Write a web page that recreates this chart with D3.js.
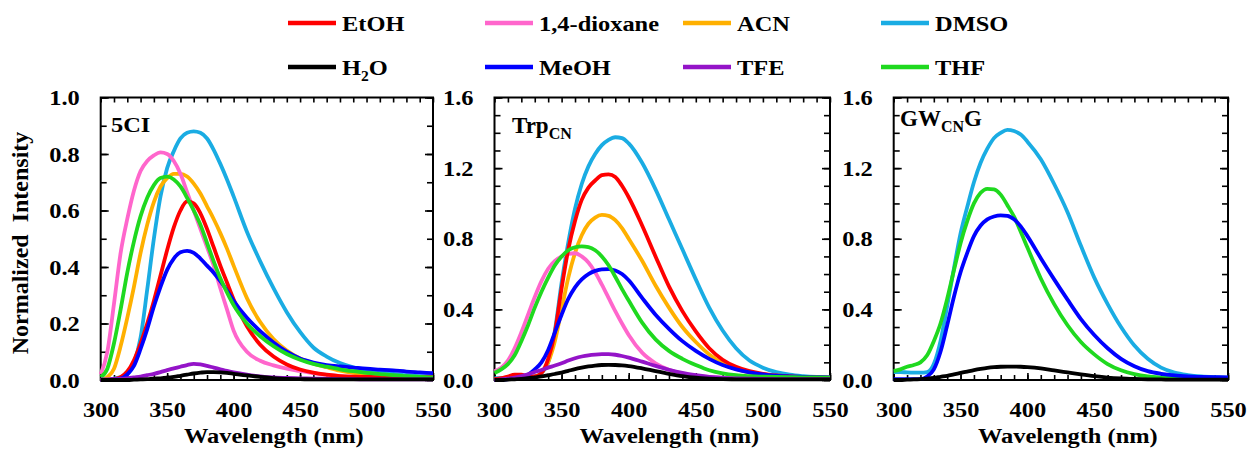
<!DOCTYPE html>
<html>
<head>
<meta charset="utf-8">
<script src="https://cdnjs.cloudflare.com/ajax/libs/d3/7.8.5/d3.min.js"></script>
<style>
	body { margin:0; background:#fff; }
	svg text { font-family:"Liberation Serif","Times New Roman",serif; font-weight:bold; fill:#000; }
</style>
</head>
<body>
<svg id="chart" width="1250" height="455"></svg>
<script>
// wavelength grid (nm), 5 nm steps up to 400, then 10 nm
var wavelength = [300,305,310,315,320,325,330,335,340,345,350,355,360,365,370,375,380,385,390,395,400,
	410,420,430,440,450,460,470,480,490,500,510,520,530,540,550];

var xTicks = [300,350,400,450,500,550];
var yTicks5CI = [0,0.2,0.4,0.6,0.8,1.0];
var yTicksCN = [0,0.4,0.8,1.2,1.6];

var solvents = ["EtOH","1,4-dioxane","ACN","DMSO","H2O","MeOH","TFE","THF"];

// 5CI
var ci_EtOH = [0,0,0.003,0.01,0.03,0.07,0.13,0.20,0.28,0.37,0.46,0.54,0.60,0.632,0.625,0.59,0.535,0.47,0.405,0.345,0.285,0.19,0.125,0.083,0.055,0.037,0.026,0.019,0.014,0.012,0.011,0.01,0.01,0.01,0.01,0.01];
var ci_dioxane = [0.02,0.10,0.27,0.45,0.57,0.67,0.74,0.775,0.795,0.806,0.80,0.775,0.73,0.665,0.60,0.535,0.47,0.405,0.325,0.25,0.175,0.10,0.068,0.052,0.04,0.032,0.024,0.018,0.014,0.011,0.009,0.008,0.007,0.006,0.006,0.005];
var ci_ACN = [0,0.01,0.04,0.12,0.22,0.33,0.45,0.55,0.63,0.685,0.715,0.73,0.73,0.72,0.695,0.66,0.615,0.57,0.52,0.465,0.405,0.29,0.205,0.145,0.104,0.076,0.058,0.045,0.033,0.025,0.021,0.018,0.014,0.011,0.008,0.006];
var ci_DMSO = [0,0,0.005,0.01,0.02,0.06,0.15,0.32,0.50,0.65,0.75,0.81,0.855,0.875,0.88,0.875,0.855,0.815,0.765,0.71,0.65,0.525,0.42,0.325,0.24,0.17,0.115,0.083,0.06,0.045,0.035,0.028,0.022,0.017,0.014,0.011];
var ci_H2O = [0,0,0,0,0,0.001,0.002,0.003,0.005,0.006,0.008,0.011,0.015,0.019,0.023,0.026,0.028,0.028,0.027,0.025,0.022,0.016,0.011,0.007,0.004,0.003,0.002,0.002,0.002,0.002,0.002,0.002,0.002,0.002,0.002,0.002];
var ci_MeOH = [0,0,0.002,0.005,0.02,0.05,0.11,0.18,0.26,0.33,0.39,0.43,0.452,0.457,0.45,0.43,0.405,0.38,0.35,0.317,0.28,0.22,0.173,0.133,0.10,0.076,0.062,0.053,0.048,0.044,0.04,0.037,0.034,0.03,0.027,0.024];
var ci_TFE = [0.002,0.002,0.003,0.004,0.006,0.009,0.012,0.017,0.022,0.028,0.035,0.041,0.047,0.053,0.057,0.055,0.05,0.044,0.038,0.032,0.027,0.019,0.013,0.009,0.007,0.006,0.005,0.004,0.003,0.003,0.002,0.002,0.002,0.002,0.002,0.002];
var ci_THF = [0.01,0.04,0.13,0.25,0.38,0.49,0.58,0.645,0.69,0.715,0.72,0.71,0.685,0.645,0.60,0.55,0.485,0.42,0.36,0.31,0.265,0.20,0.155,0.12,0.092,0.072,0.057,0.047,0.038,0.031,0.025,0.021,0.017,0.014,0.011,0.009];

// TrpCN
var trp_EtOH = [0.005,0.01,0.02,0.03,0.03,0.02,0.02,0.04,0.12,0.27,0.52,0.74,0.90,1.02,1.09,1.13,1.16,1.165,1.15,1.10,1.035,0.875,0.70,0.53,0.39,0.275,0.18,0.115,0.075,0.05,0.035,0.026,0.02,0.017,0.015,0.013];
var trp_dioxane = [0.05,0.07,0.11,0.18,0.27,0.37,0.47,0.56,0.63,0.675,0.70,0.715,0.718,0.70,0.665,0.61,0.54,0.465,0.39,0.32,0.255,0.155,0.095,0.058,0.036,0.024,0.017,0.013,0.011,0.01,0.009,0.009,0.008,0.008,0.008,0.008];
var trp_ACN = [0.005,0.005,0.008,0.01,0.012,0.015,0.02,0.04,0.10,0.22,0.40,0.58,0.72,0.82,0.885,0.92,0.935,0.93,0.905,0.86,0.80,0.675,0.535,0.41,0.30,0.215,0.145,0.095,0.062,0.042,0.03,0.023,0.019,0.016,0.014,0.013];
var trp_DMSO = [0.01,0.01,0.01,0.01,0.012,0.015,0.02,0.04,0.10,0.28,0.55,0.78,0.97,1.11,1.21,1.28,1.33,1.36,1.375,1.37,1.34,1.23,1.08,0.91,0.74,0.57,0.41,0.28,0.18,0.11,0.07,0.045,0.03,0.022,0.017,0.014];
var trp_H2O = [0,0,0.002,0.004,0.006,0.01,0.015,0.02,0.027,0.034,0.042,0.052,0.062,0.07,0.077,0.082,0.085,0.086,0.085,0.083,0.079,0.066,0.05,0.035,0.022,0.013,0.008,0.005,0.004,0.003,0.003,0.003,0.003,0.003,0.003,0.003];
var trp_MeOH = [0,0,0.005,0.01,0.015,0.03,0.06,0.10,0.17,0.27,0.37,0.46,0.525,0.57,0.60,0.618,0.627,0.628,0.62,0.60,0.565,0.465,0.37,0.29,0.22,0.165,0.12,0.085,0.06,0.043,0.032,0.025,0.021,0.018,0.016,0.015];
var trp_TFE = [0,0.003,0.008,0.014,0.022,0.032,0.045,0.057,0.07,0.082,0.095,0.11,0.123,0.133,0.14,0.144,0.146,0.146,0.143,0.136,0.127,0.104,0.08,0.058,0.04,0.027,0.018,0.012,0.009,0.007,0.006,0.005,0.005,0.005,0.005,0.005];
var trp_THF = [0.04,0.06,0.09,0.14,0.22,0.31,0.41,0.50,0.58,0.65,0.70,0.735,0.752,0.757,0.753,0.735,0.70,0.65,0.585,0.515,0.45,0.325,0.23,0.165,0.12,0.085,0.055,0.037,0.027,0.022,0.019,0.017,0.016,0.015,0.015,0.014];

// GWCNG
var gwg_DMSO = [0.045,0.045,0.043,0.042,0.042,0.045,0.09,0.22,0.42,0.63,0.83,0.98,1.12,1.23,1.31,1.37,1.40,1.417,1.41,1.39,1.35,1.25,1.11,0.95,0.76,0.58,0.43,0.30,0.195,0.12,0.07,0.042,0.028,0.02,0.016,0.014];
var gwg_H2O = [0,0,0.002,0.003,0.005,0.008,0.012,0.018,0.024,0.032,0.04,0.048,0.056,0.063,0.069,0.073,0.075,0.076,0.076,0.075,0.073,0.066,0.054,0.043,0.032,0.022,0.014,0.009,0.006,0.004,0.003,0.002,0.002,0.002,0.002,0.002];
var gwg_MeOH = [0.005,0.005,0.005,0.005,0.005,0.02,0.06,0.16,0.31,0.47,0.61,0.72,0.815,0.875,0.91,0.926,0.932,0.93,0.91,0.87,0.815,0.69,0.57,0.455,0.345,0.255,0.18,0.12,0.078,0.05,0.035,0.026,0.021,0.018,0.016,0.015];
var gwg_THF = [0.05,0.06,0.075,0.085,0.10,0.14,0.22,0.32,0.46,0.62,0.775,0.90,1.00,1.06,1.083,1.08,1.05,0.99,0.925,0.84,0.75,0.575,0.43,0.31,0.215,0.145,0.09,0.055,0.033,0.02,0.014,0.011,0.01,0.009,0.008,0.008];

var Chart = (function(){
	var svg;
	var plotTop = 97.5, plotBottom = 380;
	var sx = 1.11; // the source figure's lettering is a bit wide
	var colors = {
		"EtOH" : "#ff0000",
		"1,4-dioxane" : "#ff66cc",
		"ACN" : "#ffb000",
		"DMSO" : "#1aace3",
		"H2O" : "#000000",
		"MeOH" : "#0000ff",
		"TFE" : "#9414c8",
		"THF" : "#1fd91f"
	};

	var panels = [
		{
			left : 100.7, right : 433, yMax : 1, yTicks : yTicks5CI,
			label : [{t:"5CI"}], labelX : 111, labelY : 132, labelSize : 22, labelSx : sx,
			series : [["DMSO",ci_DMSO],["ACN",ci_ACN],["1,4-dioxane",ci_dioxane],["EtOH",ci_EtOH],
				["MeOH",ci_MeOH],["THF",ci_THF],["TFE",ci_TFE],["H2O",ci_H2O]]
		},
		{
			left : 494.5, right : 830, yMax : 1.6, yTicks : yTicksCN,
			label : [{t:"Trp"},{t:"CN",sub:true}], labelX : 512, labelY : 133, labelSize : 23, labelSx : 1,
			series : [["DMSO",trp_DMSO],["ACN",trp_ACN],["1,4-dioxane",trp_dioxane],["EtOH",trp_EtOH],
				["MeOH",trp_MeOH],["THF",trp_THF],["TFE",trp_TFE],["H2O",trp_H2O]]
		},
		{
			left : 893.7, right : 1228, yMax : 1.6, yTicks : yTicksCN,
			label : [{t:"GW"},{t:"CN",sub:true},{t:"G"}], labelX : 900, labelY : 126, labelSize : 23, labelSx : 1,
			series : [["DMSO",gwg_DMSO],["THF",gwg_THF],["MeOH",gwg_MeOH],["H2O",gwg_H2O]]
		}
	];

	// move x/y into a transform so the glyphs can be widened around their anchor
	var stretch = function(sel, k){
		k = k || sx;
		sel.each(function(){
			var t = d3.select(this);
			var tx = +t.attr("x") || 0, ty = +t.attr("y") || 0;
			t.attr("transform","translate("+tx+","+ty+") scale("+k+",1)").attr("x",0).attr("y",0);
		});
	}

	var writeParts = function(text, parts, subSize){
		var prevSub = false;
		parts.forEach(function(p){
			var ts = text.append("tspan").text(p.t);
			if(p.sub){
				ts.attr("font-size",(subSize || 14)+"px").attr("dy",6);
			}else if(prevSub){
				ts.attr("dy",-6);
			}
			prevSub = !!p.sub;
		});
	}

	var axis = function(g, gen, transform, vals, size, fmt, pad){
		var a = gen.tickValues(vals).tickSizeInner(-size).tickSizeOuter(0).tickPadding(pad)
			.tickFormat(fmt || function(){ return ""; });
		var ax = g.append("g").attr("transform",transform).call(a);
		ax.select(".domain").remove();
		ax.selectAll("line").attr("stroke","#000").attr("stroke-width",1.6);
		ax.selectAll("text").attr("font-size","22px").attr("fill","#000")
			.attr("font-family","'Liberation Serif','Times New Roman',serif").attr("font-weight","bold");
		if(fmt) stretch(ax.selectAll("text"));
		return ax;
	}

	var drawPanel = function(p){
		var g = svg.append("g");
		var x = d3.scaleLinear().domain([300,550]).range([p.left,p.right]);
		var y = d3.scaleLinear().domain([0,p.yMax]).range([plotBottom,plotTop]);
		var xMinor = d3.range(300,551,10);
		var yMinor = d3.range(0,Math.round(p.yMax*10)+1).map(function(d){ return d/10; });
		var yFmt = d3.format(".1f");

		g.append("rect")
			.attr("x",p.left).attr("y",plotTop)
			.attr("width",p.right-p.left).attr("height",plotBottom-plotTop)
			.attr("fill","none").attr("stroke","#000").attr("stroke-width",2);

		// minor + major ticks on all four sides, pointing in
		axis(g, d3.axisBottom(x), "translate(0,"+plotBottom+")", xMinor, 5, null, 0);
		axis(g, d3.axisTop(x), "translate(0,"+plotTop+")", xMinor, 5, null, 0);
		axis(g, d3.axisBottom(x), "translate(0,"+plotBottom+")", xTicks, 7, d3.format("d"), 21.5);
		axis(g, d3.axisLeft(y), "translate("+p.left+",0)", yMinor, 6, null, 0);
		axis(g, d3.axisRight(y), "translate("+p.right+",0)", yMinor, 6, null, 0);
		axis(g, d3.axisLeft(y), "translate("+p.left+",0)", p.yTicks, 8, yFmt, 21);
		axis(g, d3.axisRight(y), "translate("+p.right+",0)", p.yTicks, 8, null, 0);

		var line = d3.line()
			.x(function(d,i){ return x(wavelength[i]); })
			.y(function(d){ return y(d); })
			.curve(d3.curveMonotoneX);

		p.series.forEach(function(s){
			g.append("path")
				.attr("d",line(s[1]))
				.attr("fill","none")
				.attr("stroke",colors[s[0]])
				.attr("stroke-width",3.8)
				.attr("stroke-linejoin","round");
		});

		var lab = g.append("text")
			.attr("x",p.labelX).attr("y",p.labelY)
			.attr("font-size",p.labelSize+"px");
		writeParts(lab, p.label, 16);
		stretch(lab, p.labelSx);

		var xt = g.append("text")
			.attr("x",(p.left+p.right)/2+7).attr("y",443)
			.attr("text-anchor","middle")
			.attr("font-size","22px")
			.text("Wavelength (nm)");
		stretch(xt);
	}

	var drawLegend = function(){
		var cols = [288,485,683,881], rows = [23,67];
		solvents.forEach(function(name,i){
			var lx = cols[i%4], ly = rows[Math.floor(i/4)];
			svg.append("line")
				.attr("x1",lx).attr("x2",lx+48)
				.attr("y1",ly).attr("y2",ly)
				.attr("stroke",colors[name]).attr("stroke-width",4.5);
			var t = svg.append("text")
				.attr("x",lx+54).attr("y",ly+8)
				.attr("font-size","22px");
			if(name=="H2O"){
				writeParts(t,[{t:"H"},{t:"2",sub:true},{t:"O"}]);
			}else{
				t.text(name);
			}
			stretch(t);
		});
	}

	return {
		render : function(){
			svg = d3.select("#chart");
			panels.forEach(drawPanel);
			drawLegend();
			svg.append("text")
				.attr("transform","translate(28,243) rotate(-90)")
				.attr("text-anchor","middle")
				.attr("font-size","24px")
				.style("white-space","pre")
				.text("Normalized  Intensity");
		}
	}
})();

Chart.render();
</script>
</body>
</html>
